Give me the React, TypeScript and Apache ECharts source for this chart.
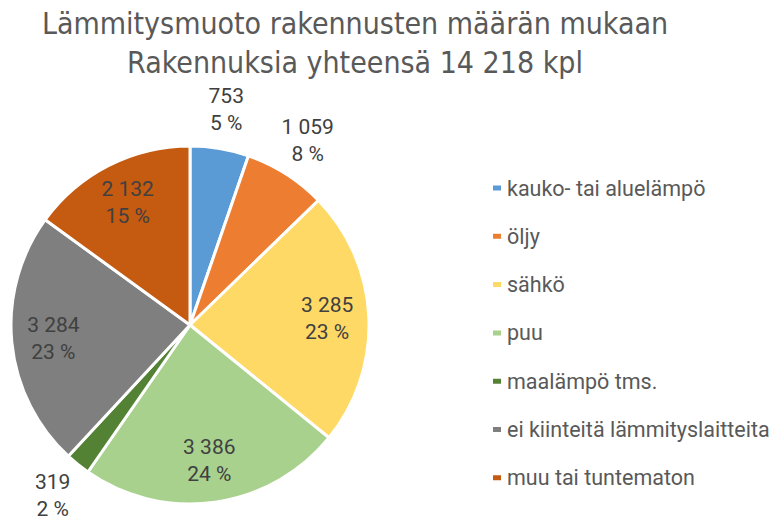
import React, { useEffect, useRef } from "react";
import * as echarts from "echarts";

const titleLines = ["Lämmitysmuoto rakennusten määrän mukaan", "Rakennuksia yhteensä 14 218 kpl"];
const categories = [
  "kauko- tai aluelämpö",
  "öljy",
  "sähkö",
  "puu",
  "maalämpö tms.",
  "ei kiinteitä lämmityslaitteita",
  "muu tai tuntematon",
];
const values = [753, 1059, 3285, 3386, 319, 3284, 2132];
const colors = ["#5B9BD5", "#ED7D31", "#FFD966", "#A9D18E", "#548235", "#7F7F7F", "#C55A11"];
const outsideLabelIdx = [0, 1, 4];

const fmtNum = (v: number) => String(v).replace(/\B(?=(\d{3})+(?!\d))/g, " ");

export default function App() {
  const ref = useRef<HTMLDivElement>(null);
  useEffect(() => {
    if (!ref.current) return;
    const chart = echarts.init(ref.current, null, { renderer: "svg" });
    const CX = 190;
    const CY = 325;
    const R = 179;
    const labelFormatter = (p: any) => `${fmtNum(p.value)}\n${p.percent} %`;
    const labelStyle = {
      color: "#404040",
      fontSize: 21,
      lineHeight: 27,
      fontFamily: "Roboto",
      formatter: labelFormatter,
    };
    const baseData = categories.map((name, i) => ({
      name,
      value: values[i],
      itemStyle: { color: colors[i] },
    }));
    chart.setOption({
      animation: false,
      backgroundColor: "#ffffff",
      title: {
        text: titleLines.join("\n"),
        left: 355,
        top: 4,
        padding: 0,
        textAlign: "center",
        textStyle: {
          fontFamily: "'Liberation Sans Narrow', 'DejaVu Sans Condensed', 'Roboto'",
          fontWeight: "normal",
          fontSize: 30,
          lineHeight: 39,
          color: "#595959",
        },
      },
      legend: {
        orient: "vertical",
        left: 491,
        top: 177,
        padding: 0,
        icon: "rect",
        itemWidth: 10,
        itemHeight: 7,
        itemGap: 26.3,
        data: categories,
        textStyle: {
          fontFamily: "Roboto",
          fontSize: 21.5,
          lineHeight: 20,
          color: "#595959",
        },
      },
      series: [
        {
          type: "pie",
          center: [CX, CY],
          radius: [0, R],
          startAngle: 90,
          clockwise: true,
          percentPrecision: 0,
          label: { show: false },
          labelLine: { show: false },
          itemStyle: { borderColor: "#ffffff", borderWidth: 3 },
          data: baseData,
        },
        {
          type: "pie",
          silent: true,
          center: [CX, CY],
          radius: [R * 0.5, R],
          startAngle: 90,
          clockwise: true,
          percentPrecision: 0,
          itemStyle: { color: "rgba(0,0,0,0)" },
          label: { show: true, position: "inside", ...labelStyle },
          labelLine: { show: false },
          data: categories.map((name, i) => ({
            name,
            value: values[i],
            label: { show: !outsideLabelIdx.includes(i) },
          })),
          legendHoverLink: false,
        },
        {
          type: "pie",
          silent: true,
          center: [CX, CY],
          radius: [192, 240],
          startAngle: 90,
          clockwise: true,
          percentPrecision: 0,
          itemStyle: { color: "rgba(0,0,0,0)" },
          label: { show: true, position: "inside", ...labelStyle },
          labelLine: { show: false },
          data: categories.map((name, i) => ({
            name,
            value: values[i],
            label: { show: outsideLabelIdx.includes(i) },
          })),
          legendHoverLink: false,
        },
      ],
    });
    return () => chart.dispose();
  }, []);
  return <div ref={ref} style={{ width: 784, height: 522, position: "absolute", left: 0, top: 0 }} />;
}
